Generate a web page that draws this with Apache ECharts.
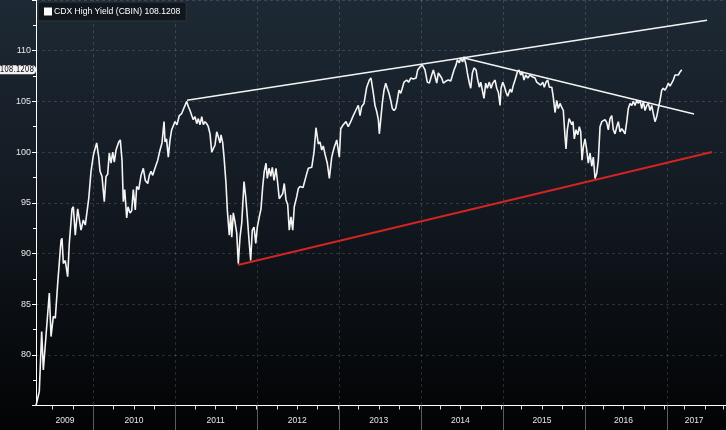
<!DOCTYPE html>
<html>
<head>
<meta charset="utf-8">
<script src="https://cdn.jsdelivr.net/npm/echarts@6/dist/echarts.min.js"></script>
<style>
html,body{margin:0;padding:0;background:#000;}
#chart{width:726px;height:430px;}
</style>
</head>
<body>
<div id="chart"></div>
<script>
// ---------------- DATA ----------------
const seriesName = 'CDX High Yield (CBIN)';
const yearLabels = ['2009','2010','2011','2012','2013','2014','2015','2016','2017'];
// decimal-year dates of the traced points
const dates = [
2009.300,2009.340,2009.369,2009.389,2009.462,2009.483,2009.511,2009.535,2009.564,2009.605,
2009.617,2009.633,2009.657,2009.686,2009.706,2009.739,2009.755,2009.779,2009.808,2009.830,
2009.849,2009.877,2009.901,2009.922,2009.943,2009.971,2010.000,2010.016,2010.040,2010.065,
2010.081,2010.105,2010.133,2010.154,2010.174,2010.194,2010.215,2010.236,2010.255,2010.276,
2010.309,2010.328,2010.349,2010.365,2010.382,2010.406,2010.422,2010.447,2010.467,2010.487,
2010.511,2010.528,2010.553,2010.581,2010.609,2010.633,2010.663,2010.682,2010.703,2010.724,
2010.743,2010.764,2010.785,2010.813,2010.837,2010.862,2010.874,2010.892,2010.914,2010.935,
2010.955,2010.996,2011.020,2011.048,2011.077,2011.097,2011.118,2011.138,2011.158,2011.179,
2011.200,2011.219,2011.240,2011.261,2011.280,2011.301,2011.322,2011.341,2011.362,2011.383,
2011.402,2011.423,2011.444,2011.463,2011.484,2011.505,2011.524,2011.545,2011.557,2011.578,
2011.594,2011.618,2011.634,2011.658,2011.675,2011.688,2011.707,2011.728,2011.749,2011.768,
2011.789,2011.810,2011.838,2011.858,2011.878,2011.899,2011.919,2011.939,2011.960,2011.981,
2012.000,2012.024,2012.045,2012.066,2012.085,2012.106,2012.122,2012.143,2012.164,2012.183,
2012.204,2012.228,2012.249,2012.268,2012.289,2012.310,2012.329,2012.350,2012.371,2012.390,
2012.411,2012.432,2012.451,2012.481,2012.500,2012.521,2012.558,2012.594,2012.622,2012.664,
2012.692,2012.716,2012.744,2012.765,2012.786,2012.805,2012.826,2012.854,2012.879,2012.908,
2012.936,2012.969,2012.988,2013.001,2013.018,2013.049,2013.082,2013.110,2013.140,2013.171,
2013.201,2013.232,2013.253,2013.274,2013.302,2013.335,2013.367,2013.387,2013.416,2013.436,
2013.457,2013.477,2013.489,2013.506,2013.525,2013.546,2013.567,2013.586,2013.607,2013.628,
2013.647,2013.668,2013.689,2013.708,2013.729,2013.750,2013.769,2013.790,2013.823,2013.848,
2013.872,2013.904,2013.937,2013.957,2013.985,2014.013,2014.046,2014.074,2014.099,2014.128,
2014.148,2014.168,2014.189,2014.209,2014.250,2014.270,2014.303,2014.331,2014.360,2014.384,
2014.400,2014.425,2014.441,2014.465,2014.482,2014.506,2014.522,2014.547,2014.563,2014.587,
2014.604,2014.624,2014.644,2014.669,2014.685,2014.709,2014.726,2014.746,2014.766,2014.787,
2014.807,2014.831,2014.852,2014.873,2014.901,2014.921,2014.941,2014.962,2014.974,2014.995,
2015.014,2015.035,2015.055,2015.084,2015.104,2015.124,2015.145,2015.173,2015.193,2015.214,
2015.234,2015.254,2015.275,2015.300,2015.328,2015.361,2015.389,2015.409,2015.429,2015.458,
2015.483,2015.502,2015.523,2015.544,2015.563,2015.593,2015.612,2015.633,2015.653,2015.673,
2015.694,2015.715,2015.734,2015.755,2015.767,2015.783,2015.804,2015.822,2015.837,2015.852,
2015.868,2015.889,2015.910,2015.929,2015.946,2015.962,2015.978,2015.999,2016.020,2016.039,
2016.060,2016.081,2016.100,2016.121,2016.142,2016.161,2016.182,2016.203,2016.222,2016.243,
2016.264,2016.283,2016.304,2016.325,2016.344,2016.365,2016.386,2016.405,2016.426,2016.447,
2016.466,2016.487,2016.508,2016.527,2016.548,2016.569,2016.588,2016.609,2016.630,2016.649,
2016.670,2016.691,2016.710,2016.731,2016.752,2016.771,2016.792,2016.813,2016.832,2016.853,
2016.874,2016.893,2016.914,2016.935,2016.954,2016.975,2016.996,2017.015,2017.036,2017.057,
2017.076,2017.097,2017.118,2017.137,2017.158,2017.179
];
const prices = [
75.0,76.4,82.3,78.5,86.1,81.8,83.8,83.6,87.0,91.3,
91.5,89.0,89.3,87.7,91.0,94.4,94.6,91.8,94.4,94.3,
92.3,93.3,92.8,92.9,95.4,98.1,99.7,100.2,100.9,99.5,
98.1,97.6,95.1,97.6,97.8,99.9,98.9,100.0,99.0,100.2,
101.0,101.2,99.2,95.1,96.3,93.5,94.6,94.0,94.2,96.3,
94.3,96.6,96.3,97.7,98.4,97.2,96.9,97.7,98.1,97.7,
98.2,98.3,99.2,100.2,100.9,103.0,101.0,101.3,99.5,101.2,
102.2,103.0,102.7,103.6,103.8,103.9,104.6,105.0,104.5,104.1,
103.6,103.2,103.5,102.8,103.3,102.7,103.5,102.7,103.0,102.8,
102.5,101.8,100.0,99.9,100.7,102.0,101.5,100.9,101.7,100.9,
99.5,96.9,94.3,91.8,93.8,91.6,94.0,93.1,92.0,89.0,
91.6,93.0,97.1,95.6,93.6,91.3,89.3,92.3,92.6,91.0,
92.6,93.6,94.4,96.6,98.1,98.9,97.4,98.4,97.6,98.5,
97.2,98.4,96.9,95.4,95.5,95.9,96.9,95.3,94.8,92.3,
93.6,92.3,94.6,95.6,96.4,96.6,96.5,97.6,98.4,98.5,
100.0,102.4,100.8,101.0,100.2,100.6,99.8,98.9,97.4,99.5,
100.4,101.2,101.3,99.5,102.3,102.7,103.0,102.5,103.0,103.6,
104.1,104.6,103.6,104.5,104.8,106.4,107.1,107.3,105.8,104.6,
104.0,103.2,101.8,103.2,104.8,106.1,106.8,106.3,105.8,105.1,
104.3,104.1,104.3,105.1,106.1,105.8,106.3,106.9,107.1,106.9,
107.3,107.2,107.3,108.1,108.4,108.6,108.1,106.9,106.8,107.6,
108.1,107.5,106.8,107.8,107.3,106.8,107.0,107.1,107.0,107.1,
108.1,108.6,109.1,108.8,109.3,108.9,109.4,108.6,107.8,106.8,
106.3,107.8,108.3,108.1,107.3,106.4,106.9,106.1,105.3,106.8,
106.3,106.9,106.3,106.8,107.1,106.3,105.9,104.6,106.3,106.9,
106.5,105.9,105.5,106.2,105.9,106.6,107.1,107.9,108.1,107.6,
107.9,107.1,107.6,107.3,107.6,107.4,107.3,106.9,106.8,106.6,
106.9,106.4,106.9,107.1,106.4,106.4,105.4,103.9,105.1,104.3,
104.8,104.4,104.1,101.5,100.3,102.2,103.3,103.4,102.7,103.0,
101.3,102.2,101.7,102.5,102.0,99.2,100.5,101.3,100.2,98.9,
99.9,98.6,99.5,97.4,97.9,99.2,102.5,103.0,102.9,103.2,
102.9,102.2,103.3,103.6,102.2,101.8,102.5,103.0,102.0,102.3,
102.1,101.8,103.0,104.3,104.8,104.6,105.0,104.6,105.1,104.8,
105.1,104.3,105.0,104.1,104.6,104.8,104.1,104.6,103.8,103.0,
103.5,104.3,105.1,106.1,106.3,106.1,106.4,106.8,106.5,106.6,
107.1,107.6,107.5,107.6,107.9,108.1208
];
// hand-drawn trend lines [date, price]
const upperTrend   = [[2011.142, 105.1], [2017.488, 113.0]];
const downTrend    = [[2014.510, 109.3], [2017.329, 103.75]];
const supportTrend = [[2011.764, 88.86], [2017.549, 100.0]];

// ---------------- LAYOUT ----------------
const W = 726;
const X_MIN = 2009.2996, X_MAX = 2017.719;
const Y_MIN = 75, Y_MAX = 115;
const PLOT_LEFT = 36, PLOT_TOP = 0, PLOT_BOTTOM = 24.5;
const pxPerYear = (W - PLOT_LEFT) / (X_MAX - X_MIN);
const QTR_START = 2009.5, YEAR_START = 2010;
const qtrLeft = PLOT_LEFT + (QTR_START - X_MIN) * pxPerYear;
const yearLeft = PLOT_LEFT + (YEAR_START - X_MIN) * pxPerYear;

const NARROW = "'Liberation Sans Narrow','DejaVu Sans Condensed','Liberation Sans',sans-serif";
const SANS = "'Liberation Sans',Arial,sans-serif";
const gridColor = 'rgba(255,255,255,0.14)';
const lastValue = prices[prices.length - 1];

const chart = echarts.init(document.getElementById('chart'), null, {renderer: 'canvas'});

const hiddenY = (gi) => ({type: 'value', gridIndex: gi, min: Y_MIN, max: Y_MAX, show: false});

const option = {
  animation: false,
  backgroundColor: {
    type: 'linear', x: 0, y: 0, x2: 0, y2: 1,
    colorStops: [
      {offset: 0, color: '#1d2934'},
      {offset: 0.45, color: '#131a22'},
      {offset: 1, color: '#020304'}
    ]
  },
  legend: {
    data: [seriesName],
    left: 38, top: 2,
    padding: [5, 6, 5, 6],
    itemWidth: 8, itemHeight: 8,
    icon: 'rect',
    backgroundColor: 'rgba(14,18,23,0.75)',
    borderColor: '#2e363f', borderWidth: 1, borderRadius: 2,
    textStyle: {color: '#ffffff', fontSize: 8.6, fontFamily: SANS, padding: [1, 0, 0, -3]},
    formatter: (name) => name + ' ' + lastValue.toFixed(4)
  },
  grid: [
    {left: PLOT_LEFT, right: 0, top: PLOT_TOP, bottom: PLOT_BOTTOM},
    {left: qtrLeft, right: 0, top: PLOT_TOP, bottom: PLOT_BOTTOM},
    {left: yearLeft, right: 0, top: PLOT_TOP, bottom: PLOT_BOTTOM}
  ],
  xAxis: [
    { // main data axis
      type: 'value', gridIndex: 0, min: X_MIN, max: X_MAX,
      axisLine: {show: true, lineStyle: {color: '#ffffff', width: 1}},
      axisTick: {show: false}, axisLabel: {show: false}, splitLine: {show: false}
    },
    { // quarterly ticks + year labels
      type: 'value', gridIndex: 1, min: QTR_START, max: X_MAX, interval: 0.25,
      axisLine: {show: false},
      axisTick: {show: true, length: 4, lineStyle: {color: '#e0e0e0', width: 1}},
      splitLine: {show: false},
      axisLabel: {
        show: true, margin: 11, color: '#e6e6e6', fontSize: 8.5, fontFamily: SANS,
        showMinLabel: true, showMaxLabel: true,
        formatter: (v) => {
          const yr = Math.floor(v + 1e-6);
          if (Math.abs(v - yr - 0.5) > 0.01) return '';
          const idx = yearLabels.indexOf(String(yr));
          if (idx < 0) return '';
          const t = yearLabels[idx];
          if (idx === 0) return '{l|' + t + '}';
          if (idx === yearLabels.length - 1) return '{r|' + t + '}';
          return t;
        },
        rich: {
          l: {padding: [0, 0, 0, 25], color: '#e6e6e6', fontSize: 8.5, fontFamily: SANS},
          r: {padding: [0, 22, 0, 0], color: '#e6e6e6', fontSize: 8.5, fontFamily: SANS}
        }
      }
    },
    { // year separators + vertical grid
      type: 'value', gridIndex: 2, min: YEAR_START, max: X_MAX, interval: 1,
      axisLine: {show: false},
      axisTick: {show: true, length: PLOT_BOTTOM, lineStyle: {color: '#5c5c5c', width: 1}},
      axisLabel: {show: false},
      splitLine: {show: true, showMaxLine: false, lineStyle: {color: gridColor, type: [3, 3], width: 1}}
    }
  ],
  yAxis: [
    {
      type: 'value', gridIndex: 0, min: Y_MIN, max: Y_MAX, interval: 5,
      axisLine: {show: true, lineStyle: {color: '#ffffff', width: 1}},
      axisTick: {show: true, length: 4, lineStyle: {color: '#ffffff'}},
      minorTick: {show: true, splitNumber: 2, length: 3, lineStyle: {color: '#ffffff'}},
      axisLabel: {
        color: '#e8e8e8', fontSize: 9, fontFamily: SANS, margin: 5,
        formatter: (v) => (v > Y_MIN && v < Y_MAX) ? String(v) : ''
      },
      splitLine: {show: true, lineStyle: {color: gridColor, type: [3, 3], width: 1}}
    },
    hiddenY(1),
    hiddenY(2)
  ],
  series: [
    {
      name: seriesName, type: 'line', xAxisIndex: 0, yAxisIndex: 0,
      data: dates.map((d, i) => [d, prices[i]]),
      showSymbol: false, symbol: 'none',
      lineStyle: {color: '#f4f4f4', width: 1.6},
      itemStyle: {color: '#ffffff'},
      z: 5,
      markLine: {
        silent: true, symbol: 'none',
        lineStyle: {color: 'rgba(0,0,0,0)', width: 0},
        label: {
          show: true, position: 'start', distance: 0,
          formatter: () => lastValue.toFixed(4),
          color: '#111', fontSize: 8, fontFamily: NARROW,
          backgroundColor: '#f2f2f2', padding: [1, 2, 0, 1], borderRadius: [0, 4, 4, 0]
        },
        data: [{yAxis: lastValue}]
      }
    },
    {
      name: 'upper', type: 'line', data: upperTrend, symbol: 'none',
      lineStyle: {color: '#f4f4f4', width: 1.5}, z: 4
    },
    {
      name: 'down', type: 'line', data: downTrend, symbol: 'none',
      lineStyle: {color: '#f4f4f4', width: 1.5}, z: 4
    },
    {
      name: 'support', type: 'line', data: supportTrend, symbol: 'none',
      lineStyle: {color: '#d42323', width: 2}, z: 4
    }
  ]
};
chart.setOption(option);
</script>
</body>
</html>
